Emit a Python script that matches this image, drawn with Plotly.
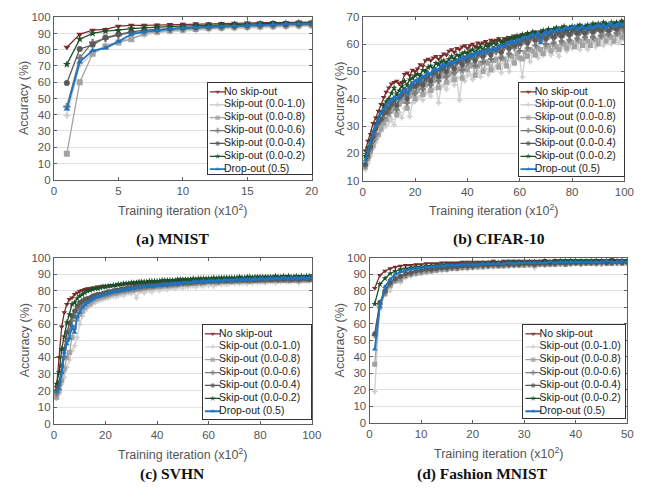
import plotly.graph_objects as go

W, H = 652, 500

SERIES = ["No skip-out", "Skip-out (0.0-1.0)", "Skip-out (0.0-0.8)", "Skip-out (0.0-0.6)",
          "Skip-out (0.0-0.4)", "Skip-out (0.0-0.2)", "Drop-out (0.5)"]
COLORS = ["#7a2c2c", "#d0d0d0", "#a3a3a3", "#7b7b7b", "#5a5a5a", "#1d4f2a", "#1f74c0"]
SYMBOLS = ["triangle-down", "star-diamond", "square", "cross", "circle", "star", "triangle-up"]

# ---------------- MNIST ----------------
mnist_iter = list(range(1, 21))
mnist_noskip = [81.5, 89.5, 92.0, 92.5, 94.5, 95.0, 95.0, 95.2, 95.5, 95.7, 96.0, 96.0, 96.2, 96.3, 96.5, 96.6, 96.7, 96.8, 97.0, 97.0]
mnist_s10 = [39.5, 70.5, 77.5, 83.0, 85.0, 87.0, 89.0, 90.5, 91.0, 91.5, 92.0, 92.5, 92.8, 93.0, 93.3, 93.5, 93.8, 94.0, 94.2, 94.5]
mnist_s08 = [16.0, 60.0, 77.5, 82.0, 84.5, 86.5, 90.0, 91.0, 91.8, 92.3, 92.8, 93.2, 93.5, 93.8, 94.0, 94.3, 94.5, 94.7, 94.9, 95.0]
mnist_s06 = [45.0, 75.0, 84.5, 87.0, 89.0, 90.5, 91.2, 92.0, 92.5, 93.0, 93.4, 93.7, 94.0, 94.3, 94.5, 94.8, 95.0, 95.2, 95.4, 95.5]
mnist_s04 = [59.5, 80.5, 83.0, 87.5, 89.5, 91.0, 92.0, 92.5, 93.0, 93.5, 93.8, 94.2, 94.5, 94.8, 95.0, 95.3, 95.5, 95.7, 95.9, 96.0]
mnist_s02 = [71.0, 86.5, 90.0, 91.5, 92.0, 93.0, 93.5, 94.0, 94.2, 94.5, 94.8, 95.0, 95.3, 95.5, 95.8, 96.0, 96.2, 96.3, 96.5, 96.5]
mnist_drop = [43.5, 72.5, 79.5, 81.0, 85.0, 89.5, 91.0, 92.0, 92.8, 93.5, 93.8, 94.0, 94.2, 94.8, 95.0, 95.3, 95.5, 95.8, 96.0, 96.0]

# ---------------- CIFAR-10 ----------------
cifar_iter = list(range(1, 101))
cifar_noskip = [21.0, 24.5, 27.0, 31.0, 33.0, 35.5, 38.0, 40.5, 42.5, 44.0,
                45.5, 46.0, 46.5, 45.5, 46.0, 49.0, 49.5, 48.5, 50.5, 50.0,
                51.0, 52.5, 52.0, 54.0, 54.5, 54.0, 55.0, 55.5, 54.5, 55.5,
                56.5, 56.0, 57.5, 58.0, 57.0, 58.5, 58.0, 59.0, 59.5, 58.5,
                59.5, 60.0, 59.0, 60.5, 60.0, 60.5, 61.0, 60.0, 61.5, 61.0,
                61.5, 62.0, 61.0, 62.0, 61.5, 62.5, 62.0, 63.0, 62.5, 63.0,
                63.5, 63.0, 63.5, 64.0, 63.5, 64.5, 64.0, 64.5, 64.0, 64.5,
                65.0, 64.5, 65.0, 65.5, 64.5, 65.0, 65.5, 65.0, 65.5, 66.0,
                65.5, 66.0, 65.0, 66.0, 66.5, 65.5, 66.0, 66.5, 66.0, 66.5,
                67.0, 66.0, 66.5, 67.0, 66.5, 67.0, 67.5, 66.5, 67.0, 67.5]
cifar_s10 = [14.0, 16.5, 19.0, 22.0, 24.0, 26.0, 28.0, 29.5, 30.0, 31.5,
             32.5, 30.5, 34.0, 35.0, 33.0, 36.5, 37.0, 33.5, 38.5, 39.0,
             40.0, 41.0, 39.5, 42.0, 42.5, 41.0, 43.5, 44.0, 38.5, 44.5,
             45.0, 43.5, 46.0, 47.0, 45.0, 47.5, 39.5, 48.0, 46.5, 48.5,
             49.0, 47.0, 49.5, 50.0, 48.0, 50.5, 51.0, 49.0, 51.5, 50.5,
             52.0, 52.5, 49.5, 53.0, 53.5, 50.0, 54.0, 53.5, 55.0, 54.5,
             48.0, 55.0, 55.5, 53.5, 56.0, 56.5, 55.0, 57.0, 56.0, 57.5,
             58.0, 56.0, 58.5, 57.5, 55.5, 58.5, 59.0, 57.5, 59.5, 58.5,
             59.0, 60.0, 58.0, 60.5, 59.5, 58.0, 60.5, 61.0, 59.0, 61.0,
             61.5, 59.5, 61.0, 62.0, 60.0, 61.5, 62.0, 60.5, 62.0, 61.5]
cifar_s08 = [15.0, 18.0, 20.5, 23.0, 25.5, 27.0, 29.0, 31.0, 32.5, 34.0,
             35.5, 36.5, 34.0, 38.0, 39.0, 40.0, 36.5, 41.0, 42.0, 40.0,
             43.0, 44.5, 41.5, 45.0, 46.0, 43.0, 46.5, 47.5, 44.0, 48.0,
             48.5, 46.0, 49.0, 49.5, 47.0, 50.5, 51.0, 47.5, 51.5, 50.5,
             52.0, 52.5, 48.5, 52.0, 53.0, 50.0, 53.5, 53.0, 50.5, 54.0,
             54.5, 51.5, 55.0, 54.5, 52.0, 56.0, 55.5, 53.0, 56.5, 55.0,
             54.5, 57.0, 55.5, 58.0, 57.5, 56.0, 58.5, 58.0, 56.5, 59.0,
             59.5, 57.5, 60.0, 59.0, 58.0, 60.5, 60.0, 58.5, 61.0, 60.5,
             59.0, 61.5, 61.0, 59.5, 62.0, 61.0, 59.5, 62.5, 61.5, 60.0,
             62.5, 63.0, 61.0, 63.5, 62.5, 61.0, 63.5, 64.0, 62.5, 64.0]
cifar_s06 = [15.5, 18.5, 21.5, 24.5, 27.0, 30.5, 32.0, 33.0, 36.0, 35.0,
             37.5, 39.0, 36.0, 40.0, 41.0, 42.0, 38.5, 43.0, 44.5, 42.0,
             45.0, 46.0, 43.5, 46.5, 47.5, 45.0, 48.5, 49.0, 46.5, 50.0,
             50.5, 48.0, 51.5, 52.0, 49.5, 53.0, 53.5, 50.5, 54.0, 53.0,
             54.5, 55.0, 52.0, 55.5, 56.0, 53.5, 56.5, 57.0, 54.5, 57.5,
             57.0, 58.0, 55.0, 58.5, 59.0, 56.5, 59.5, 58.5, 60.0, 57.5,
             60.5, 61.0, 58.5, 61.5, 62.0, 59.5, 62.0, 61.0, 62.5, 60.0,
             62.5, 63.0, 60.5, 63.0, 63.5, 61.0, 63.5, 64.0, 61.5, 64.0,
             64.5, 62.0, 64.0, 64.5, 62.5, 64.5, 65.0, 62.5, 65.0, 65.5,
             63.0, 65.0, 65.5, 63.5, 65.5, 66.0, 64.0, 65.5, 66.0, 65.0]
cifar_s04 = [16.0, 19.5, 22.5, 26.0, 29.0, 31.5, 32.5, 34.5, 35.0, 36.5,
             38.0, 39.5, 37.5, 40.5, 41.5, 43.5, 40.0, 44.0, 45.5, 44.5,
             45.5, 47.0, 45.0, 47.5, 48.5, 46.5, 49.5, 50.0, 48.0, 51.0,
             51.5, 50.0, 52.5, 53.0, 51.0, 53.5, 54.0, 52.5, 55.0, 54.0,
             55.5, 56.0, 54.0, 56.5, 57.0, 55.5, 57.5, 58.0, 56.0, 58.5,
             58.0, 59.0, 57.0, 59.5, 60.0, 58.5, 60.5, 59.5, 61.0, 60.0,
             61.5, 62.0, 60.5, 62.5, 63.0, 61.5, 63.0, 62.5, 63.5, 62.0,
             63.5, 64.0, 62.5, 64.0, 64.5, 63.0, 64.5, 65.0, 63.5, 65.0,
             65.5, 64.0, 65.0, 65.5, 64.0, 65.5, 66.0, 64.5, 65.5, 66.0,
             65.0, 66.0, 66.5, 65.0, 66.0, 66.5, 65.5, 66.5, 67.0, 66.5]
cifar_s02 = [19.0, 22.0, 25.0, 28.0, 30.5, 33.0, 35.0, 37.5, 39.0, 40.0,
             42.0, 44.0, 41.5, 43.0, 44.5, 46.5, 45.0, 47.0, 47.5, 48.5,
             49.0, 48.5, 50.5, 50.0, 51.5, 52.0, 51.0, 53.0, 52.5, 53.5,
             54.0, 53.0, 54.5, 55.5, 54.5, 56.0, 55.5, 56.5, 57.0, 56.5,
             57.5, 58.0, 57.0, 58.5, 59.0, 58.0, 59.5, 59.0, 60.0, 60.5,
             60.0, 61.5, 60.5, 61.0, 62.0, 61.5, 62.5, 62.0, 63.0, 62.5,
             63.5, 63.0, 64.0, 63.5, 64.5, 64.0, 63.5, 64.5, 65.0, 64.5,
             65.5, 65.0, 65.5, 66.0, 65.5, 66.0, 66.5, 65.5, 66.0, 66.5,
             66.0, 66.5, 67.0, 66.0, 66.5, 67.0, 66.5, 67.5, 67.0, 67.5,
             67.0, 68.0, 67.5, 67.0, 68.0, 67.5, 68.0, 67.5, 68.5, 68.0]
cifar_drop = [17.5, 21.0, 24.0, 27.5, 30.0, 32.5, 34.5, 36.0, 37.5, 38.5,
              39.5, 40.5, 40.0, 41.0, 42.5, 43.0, 42.0, 44.0, 45.5, 46.5,
              47.0, 46.5, 48.0, 48.5, 49.5, 49.0, 50.5, 51.0, 50.5, 52.0,
              52.5, 52.0, 53.0, 53.5, 53.0, 54.0, 54.5, 55.0, 54.5, 55.5,
              56.0, 55.5, 56.5, 57.0, 56.5, 57.5, 57.0, 58.0, 57.5, 58.5,
              58.0, 59.0, 59.5, 59.0, 60.0, 60.5, 61.0, 60.5, 61.5, 61.0,
              62.0, 62.5, 62.0, 63.0, 63.5, 63.0, 64.0, 60.5, 63.5, 64.5,
              64.0, 65.0, 64.5, 65.0, 65.5, 65.0, 65.5, 66.0, 65.5, 66.0,
              66.5, 65.5, 66.0, 66.5, 65.5, 66.0, 66.5, 66.0, 66.5, 67.0,
              66.5, 67.0, 66.0, 67.0, 67.5, 66.5, 67.0, 67.5, 67.0, 67.5]

# ---------------- SVHN ----------------
svhn_iter = list(range(1, 101))
svhn_noskip = [22.0, 40.0, 58.5, 67.0, 72.0, 75.0, 76.0, 78.0, 79.0, 80.0,
               80.5, 81.0, 81.5, 81.5, 82.0, 82.0, 82.5, 82.5, 83.0, 83.0,
               83.0, 83.5, 83.5, 83.5, 84.0, 84.0, 84.0, 84.5, 84.5, 84.5,
               84.5, 85.0, 85.0, 85.0, 85.0, 85.0, 85.5, 85.5, 85.5, 85.5,
               85.5, 85.5, 86.0, 86.0, 86.0, 86.0, 86.0, 86.0, 86.5, 86.5,
               86.5, 86.5, 86.5, 86.5, 86.5, 86.5, 87.0, 86.5, 87.0, 87.0,
               87.0, 87.0, 87.0, 87.0, 87.0, 87.5, 87.0, 87.5, 87.0, 87.5,
               87.5, 87.5, 87.5, 87.5, 87.5, 87.5, 88.0, 87.5, 87.5, 88.0,
               87.5, 88.0, 87.5, 88.0, 88.0, 87.5, 88.0, 88.0, 88.0, 88.0,
               88.0, 88.0, 88.0, 88.5, 88.0, 88.0, 88.5, 88.0, 88.0, 88.0]
svhn_s10 = [15.0, 18.0, 24.0, 28.0, 34.0, 38.5, 44.0, 47.0, 52.0, 60.0,
            65.0, 68.0, 70.0, 71.0, 72.5, 73.0, 74.0, 74.5, 75.0, 75.5,
            76.0, 76.5, 77.0, 76.5, 77.5, 78.0, 77.5, 78.5, 79.0, 78.5,
            79.5, 76.0, 79.5, 80.0, 79.0, 80.5, 80.5, 79.5, 81.0, 81.0,
            80.5, 81.5, 81.5, 81.0, 82.0, 82.0, 81.5, 82.5, 82.5, 82.0,
            83.0, 82.5, 83.0, 83.0, 82.5, 83.5, 83.5, 83.0, 84.0, 83.5,
            84.0, 83.0, 84.0, 84.5, 84.0, 84.5, 84.0, 84.5, 85.0, 84.5,
            85.0, 84.5, 85.0, 85.0, 84.5, 85.5, 85.0, 85.5, 85.0, 85.5,
            85.5, 85.0, 85.5, 86.0, 85.5, 85.0, 86.0, 85.5, 86.0, 85.5,
            86.0, 85.5, 86.0, 86.0, 85.0, 86.0, 86.5, 86.0, 86.0, 86.5]
svhn_s08 = [16.0, 20.0, 26.0, 33.0, 40.0, 43.0, 52.0, 58.0, 63.0, 66.0,
            68.0, 70.0, 71.5, 72.5, 74.0, 75.0, 75.5, 76.0, 76.5, 77.0,
            77.5, 78.0, 78.5, 78.5, 79.0, 79.5, 79.5, 80.0, 80.0, 80.5,
            80.5, 81.0, 81.0, 81.5, 81.5, 82.0, 82.0, 82.0, 82.5, 83.0,
            82.5, 83.0, 83.0, 83.5, 83.0, 83.5, 83.5, 84.0, 84.0, 84.5,
            84.0, 84.5, 84.5, 85.0, 84.5, 85.0, 85.0, 85.0, 85.5, 85.5,
            85.5, 85.5, 85.0, 85.5, 86.0, 85.5, 86.0, 86.0, 85.5, 86.0,
            86.0, 86.0, 86.5, 86.0, 86.0, 86.5, 86.0, 86.5, 86.5, 86.5,
            86.0, 86.5, 86.5, 86.5, 87.0, 86.5, 86.5, 87.0, 86.5, 86.5,
            87.0, 86.5, 87.0, 86.5, 87.0, 87.0, 86.5, 87.0, 87.0, 87.0]
svhn_s06 = [18.0, 23.0, 31.0, 40.0, 50.0, 56.0, 62.0, 65.0, 68.5, 71.0,
            72.5, 73.5, 74.5, 75.0, 76.0, 76.5, 77.0, 77.5, 78.0, 78.0,
            78.5, 79.0, 79.5, 79.5, 80.0, 80.5, 80.5, 81.0, 81.0, 81.5,
            81.5, 82.0, 82.0, 82.0, 82.5, 82.5, 83.0, 83.0, 83.0, 83.5,
            83.5, 83.5, 84.0, 83.5, 84.0, 84.0, 84.5, 84.0, 84.5, 84.5,
            85.0, 84.5, 85.0, 85.0, 85.0, 85.5, 85.0, 85.5, 85.5, 86.0,
            85.5, 86.0, 86.0, 85.5, 86.0, 86.0, 86.5, 86.0, 86.0, 86.5,
            86.5, 86.0, 86.5, 86.5, 86.5, 86.0, 86.5, 87.0, 86.5, 86.5,
            87.0, 86.5, 87.0, 86.5, 87.0, 87.0, 86.5, 87.0, 87.0, 87.0,
            86.5, 87.0, 87.0, 87.0, 86.5, 87.0, 87.5, 87.0, 87.0, 87.0]
svhn_s04 = [20.0, 25.0, 35.0, 45.0, 55.0, 60.5, 65.0, 68.0, 71.0, 73.0,
            74.0, 75.0, 75.5, 76.0, 77.0, 77.5, 78.0, 78.0, 78.5, 79.0,
            79.5, 79.5, 80.0, 80.5, 80.5, 81.0, 81.0, 81.5, 81.5, 82.0,
            82.0, 82.5, 82.5, 83.0, 83.0, 83.0, 83.5, 83.5, 83.5, 84.0,
            84.0, 84.0, 84.5, 84.0, 84.5, 84.5, 85.0, 84.5, 85.0, 85.0,
            85.0, 85.5, 85.0, 85.5, 85.5, 85.5, 86.0, 85.5, 86.0, 86.0,
            86.0, 86.0, 86.5, 86.0, 86.5, 86.5, 86.0, 86.5, 86.5, 86.5,
            86.5, 87.0, 86.5, 87.0, 86.5, 87.0, 87.0, 86.5, 87.0, 87.0,
            87.0, 87.0, 87.5, 87.0, 87.0, 87.5, 87.0, 87.5, 87.0, 87.5,
            87.5, 87.0, 87.5, 87.5, 87.0, 87.5, 87.5, 87.5, 87.0, 87.5]
svhn_s02 = [24.0, 31.0, 45.0, 52.5, 61.0, 66.0, 72.0, 73.0, 75.5, 77.0,
            78.0, 79.0, 80.0, 80.5, 81.0, 81.5, 81.5, 82.0, 82.5, 82.5,
            83.0, 83.0, 83.5, 83.5, 84.0, 84.0, 84.5, 84.5, 84.5, 85.0,
            85.0, 85.0, 85.5, 85.5, 85.5, 85.5, 86.0, 86.0, 86.0, 86.0,
            86.0, 86.5, 86.5, 86.5, 86.5, 86.5, 86.5, 87.0, 87.0, 87.0,
            87.0, 87.0, 87.0, 87.5, 87.0, 87.5, 87.5, 87.5, 87.5, 87.5,
            87.5, 88.0, 87.5, 88.0, 88.0, 88.0, 88.0, 88.0, 88.0, 88.0,
            88.0, 88.5, 88.0, 88.0, 88.5, 88.5, 88.0, 88.5, 88.5, 88.5,
            88.5, 88.5, 88.5, 88.5, 88.5, 89.0, 88.5, 88.5, 89.0, 88.5,
            89.0, 88.5, 88.5, 89.0, 88.5, 89.0, 88.5, 89.0, 89.0, 88.5]
svhn_drop = [19.5, 21.0, 30.5, 43.0, 48.0, 51.5, 59.0, 55.0, 64.5, 67.0,
             70.0, 71.5, 73.0, 74.0, 75.0, 76.0, 76.5, 77.0, 77.5, 78.0,
             78.5, 79.0, 79.5, 79.5, 80.0, 80.5, 80.5, 81.0, 81.0, 81.5,
             81.5, 82.0, 82.0, 82.5, 82.5, 82.5, 83.0, 83.0, 83.0, 83.5,
             83.5, 83.5, 84.0, 84.0, 84.0, 84.5, 84.5, 84.5, 84.5, 85.0,
             85.0, 85.0, 85.0, 85.5, 85.5, 85.5, 85.5, 86.0, 85.5, 86.0,
             86.0, 86.0, 86.0, 86.5, 86.0, 86.5, 86.5, 86.5, 86.5, 86.5,
             87.0, 86.5, 87.0, 87.0, 87.0, 87.0, 87.0, 87.5, 87.0, 87.5,
             87.5, 87.0, 87.5, 87.5, 87.5, 87.5, 87.5, 87.5, 88.0, 87.5,
             87.5, 88.0, 87.5, 88.0, 87.5, 88.0, 88.0, 87.5, 88.0, 88.0]

# ---------------- Fashion MNIST ----------------
fashion_iter = list(range(1, 51))
fashion_noskip = [81.5, 89.5, 92.0, 93.5, 94.5, 95.0, 95.5, 95.5, 96.0, 96.0,
                  96.5, 96.5, 96.5, 97.0, 97.0, 97.0, 97.0, 97.5, 97.5, 97.5,
                  97.5, 97.5, 97.5, 98.0, 97.5, 98.0, 98.0, 98.0, 98.0, 98.0,
                  98.0, 98.0, 98.0, 98.5, 98.0, 98.5, 98.5, 98.5, 98.5, 98.5,
                  98.5, 98.5, 98.5, 98.5, 98.5, 98.5, 99.0, 98.5, 98.5, 98.5]
fashion_s10 = [19.0, 72.0, 79.5, 80.0, 86.0, 85.0, 88.0, 89.0, 90.0, 90.5,
               91.0, 91.5, 92.0, 92.0, 92.5, 93.0, 93.0, 93.5, 93.5, 94.0,
               94.0, 94.5, 94.5, 94.5, 95.0, 95.0, 95.0, 95.0, 95.5, 95.5,
               95.5, 94.0, 95.5, 96.0, 95.5, 96.0, 96.0, 96.0, 96.0, 96.5,
               96.0, 96.5, 96.5, 96.0, 96.5, 96.5, 96.5, 96.5, 97.0, 96.5]
fashion_s08 = [35.5, 70.0, 78.0, 83.0, 86.0, 86.5, 89.0, 90.0, 90.5, 91.0,
               91.5, 92.0, 92.5, 93.0, 93.0, 93.5, 93.5, 94.0, 94.0, 94.5,
               94.5, 94.5, 95.0, 95.0, 95.0, 95.0, 95.5, 95.5, 95.5, 95.5,
               96.0, 95.5, 96.0, 96.0, 96.0, 96.0, 96.5, 96.0, 96.5, 96.5,
               96.5, 96.5, 96.5, 96.5, 97.0, 96.5, 96.5, 97.0, 96.5, 97.0]
fashion_s06 = [53.0, 72.0, 79.0, 84.0, 86.5, 88.0, 89.5, 90.5, 91.5, 92.0,
               92.5, 92.5, 93.0, 93.5, 93.5, 94.0, 94.0, 94.5, 94.5, 94.5,
               95.0, 95.0, 95.0, 95.5, 95.5, 95.5, 95.5, 96.0, 96.0, 96.0,
               96.0, 96.0, 96.5, 96.0, 96.5, 96.5, 96.5, 96.5, 96.5, 97.0,
               96.5, 97.0, 97.0, 97.0, 96.5, 97.0, 97.0, 97.0, 97.0, 97.0]
fashion_s04 = [54.0, 73.0, 80.0, 85.0, 87.5, 89.0, 90.5, 91.0, 92.0, 92.5,
               93.0, 93.0, 93.5, 94.0, 94.0, 94.5, 94.5, 95.0, 95.0, 95.0,
               95.5, 95.5, 95.5, 96.0, 95.5, 96.0, 96.0, 96.0, 96.0, 96.5,
               96.5, 96.0, 96.5, 96.5, 96.5, 96.5, 97.0, 96.5, 97.0, 97.0,
               97.0, 97.0, 97.0, 97.0, 97.5, 97.0, 97.0, 97.5, 97.0, 97.5]
fashion_s02 = [72.0, 84.0, 87.5, 90.5, 92.0, 93.0, 93.5, 94.0, 94.5, 94.5,
               95.0, 95.0, 95.5, 95.5, 96.0, 96.0, 96.0, 96.5, 96.5, 96.5,
               96.5, 97.0, 97.0, 97.0, 97.0, 97.0, 97.5, 97.5, 97.5, 97.5,
               97.5, 97.5, 97.5, 98.0, 97.5, 98.0, 98.0, 98.0, 98.0, 98.0,
               98.0, 98.0, 98.0, 98.5, 98.0, 98.0, 98.5, 98.0, 98.5, 98.5]
fashion_drop = [44.5, 70.5, 82.5, 87.0, 90.0, 91.5, 92.5, 93.0, 93.5, 94.0,
                94.5, 94.5, 95.0, 95.0, 95.5, 95.5, 95.5, 96.0, 96.0, 96.0,
                96.0, 96.5, 96.5, 96.5, 96.5, 96.5, 97.0, 96.5, 97.0, 97.0,
                97.0, 97.0, 97.0, 97.0, 97.5, 97.0, 97.5, 97.5, 97.5, 97.5,
                97.5, 97.5, 97.5, 97.5, 97.5, 98.0, 97.5, 97.5, 98.0, 97.5]

CAPTIONS = ["(a) MNIST", "(b) CIFAR-10", "(c) SVHN", "(d) Fashion MNIST"]

panels = [
    dict(x=mnist_iter, ys=[mnist_noskip, mnist_s10, mnist_s08, mnist_s06, mnist_s04, mnist_s02, mnist_drop],
         plot=(52, 11.5, 315, 178), xr=[0, 20], xd=5, yr=[0, 100], ms=6,
         leg=(209, 79, 315, 172), cap=(173, 239), xt=209, yt=22),
    dict(x=cifar_iter, ys=[cifar_noskip, cifar_s10, cifar_s08, cifar_s06, cifar_s04, cifar_s02, cifar_drop],
         plot=(367, 11, 634, 179), xr=[0, 100], xd=20, yr=[10, 70], ms=5,
         leg=(526, 79, 634, 174), cap=(506, 239), xt=209, yt=344),
    dict(x=svhn_iter, ys=[svhn_noskip, svhn_s10, svhn_s08, svhn_s06, svhn_s04, svhn_s02, svhn_drop],
         plot=(52, 258, 315, 428), xr=[0, 100], xd=20, yr=[0, 100], ms=5,
         leg=(204, 327, 314, 423), cap=(172, 479), xt=459, yt=22),
    dict(x=fashion_iter, ys=[fashion_noskip, fashion_s10, fashion_s08, fashion_s06, fashion_s04, fashion_s02, fashion_drop],
         plot=(374, 258, 637, 427), xr=[0, 50], xd=10, yr=[0, 100], ms=5,
         leg=(531, 327, 635, 422), cap=(489, 479), xt=458, yt=344),
]

AX_COLOR = "#5e5e5e"
TICK_FONT = dict(family="Liberation Sans, Arial, sans-serif", size=11.5, color="#555555")
TITLE_FONT = dict(family="Liberation Sans, Arial, sans-serif", size=12.5, color="#555555")

fig = go.Figure()
layout = dict(width=W, height=H, margin=dict(l=0, r=0, t=0, b=0),
              paper_bgcolor="white", plot_bgcolor="white", showlegend=False)
annotations = []

def px2x(v):
    return v / W

def px2y(v):
    return 1 - v / H

for i, p in enumerate(panels):
    n = i + 1
    sx = "" if n == 1 else str(n)
    x0, y0, x1, y1 = p["plot"]
    for j, ys in enumerate(p["ys"]):
        fig.add_trace(go.Scatter(
            x=p["x"], y=ys, mode="lines+markers", name=SERIES[j],
            line=dict(color=COLORS[j], width=1.8 if j == 6 else 1.3),
            marker=dict(symbol=SYMBOLS[j], size=p["ms"], color=COLORS[j], line=dict(width=0)),
            xaxis="x" + sx, yaxis="y" + sx, showlegend=False, hoverinfo="skip"))
    layout["xaxis" + sx] = dict(
        domain=[px2x(x0), px2x(x1)], anchor="y" + sx, range=p["xr"], dtick=p["xd"], tick0=0,
        showline=True, linecolor=AX_COLOR, linewidth=1, mirror="ticks", ticks="inside",
        ticklen=3, tickcolor=AX_COLOR, showgrid=False, zeroline=False, tickfont=TICK_FONT)
    layout["yaxis" + sx] = dict(
        domain=[px2y(y1), px2y(y0)], anchor="x" + sx, range=p["yr"], dtick=10, tick0=0,
        showline=True, linecolor=AX_COLOR, linewidth=1, mirror="ticks", ticks="inside",
        ticklen=3, tickcolor=AX_COLOR, showgrid=True, gridcolor="#e2e2e2", gridwidth=1,
        zeroline=False, tickfont=TICK_FONT)
    annotations.append(dict(text="Training iteration (x10<sup>2</sup>)", xref="paper", yref="paper",
                            x=px2x((x0 + x1) / 2), y=px2y(p["xt"]), showarrow=False,
                            xanchor="center", yanchor="middle", font=TITLE_FONT))
    annotations.append(dict(text="Accuracy (%)", xref="paper", yref="paper", textangle=-90,
                            x=px2x(p["yt"]), y=px2y((y0 + y1) / 2), showarrow=False,
                            xanchor="center", yanchor="middle", font=TITLE_FONT))
    annotations.append(dict(text="<b>" + CAPTIONS[i] + "</b>", xref="paper", yref="paper",
                            x=px2x(p["cap"][0]), y=px2y(p["cap"][1]), showarrow=False,
                            xanchor="center", yanchor="middle",
                            font=dict(family="Liberation Serif, Times New Roman, serif", size=15.5, color="#111111")))

# Legends: one small boxed axis per panel
ITEM = 13.2
TOP = 9
for i, p in enumerate(panels):
    n = i + 5
    sx = str(n)
    lx0, ly0, lx1, ly1 = p["leg"]
    bw, bh = lx1 - lx0, ly1 - ly0
    yr = [(bh - TOP) / ITEM, -TOP / ITEM]
    xr = [0, bw]
    fig.add_trace(go.Scatter(x=[xr[0], xr[1], xr[1], xr[0], xr[0]], y=[yr[0], yr[0], yr[1], yr[1], yr[0]],
                             mode="lines", fill="toself", fillcolor="white", line=dict(width=0),
                             xaxis="x" + sx, yaxis="y" + sx, showlegend=False, hoverinfo="skip"))
    for j, name in enumerate(SERIES):
        fig.add_trace(go.Scatter(
            x=[2, 10, 18], y=[j, j, j], mode="lines+markers",
            line=dict(color=COLORS[j], width=1.8 if j == 6 else 1.3),
            marker=dict(symbol=SYMBOLS[j], size=[0, 4.5, 0], color=COLORS[j], line=dict(width=0)),
            xaxis="x" + sx, yaxis="y" + sx, showlegend=False, hoverinfo="skip"))
    fig.add_trace(go.Scatter(
        x=[16.5] * len(SERIES), y=list(range(len(SERIES))), mode="text", text=SERIES,
        textposition="middle right", cliponaxis=False,
        textfont=dict(family="Liberation Sans, Arial, sans-serif", size=10.5, color="#222222"),
        xaxis="x" + sx, yaxis="y" + sx, showlegend=False, hoverinfo="skip"))
    layout["xaxis" + sx] = dict(domain=[px2x(lx0), px2x(lx1)], anchor="y" + sx, range=xr,
                                showline=True, mirror=True, linecolor="#333333", linewidth=1,
                                showgrid=False, zeroline=False, showticklabels=False, ticks="",
                                fixedrange=True)
    layout["yaxis" + sx] = dict(domain=[px2y(ly1), px2y(ly0)], anchor="x" + sx, range=yr,
                                showline=True, mirror=True, linecolor="#333333", linewidth=1,
                                showgrid=False, zeroline=False, showticklabels=False, ticks="",
                                fixedrange=True)

layout["annotations"] = annotations
fig.update_layout(**layout)
fig.write_html("out.html")
